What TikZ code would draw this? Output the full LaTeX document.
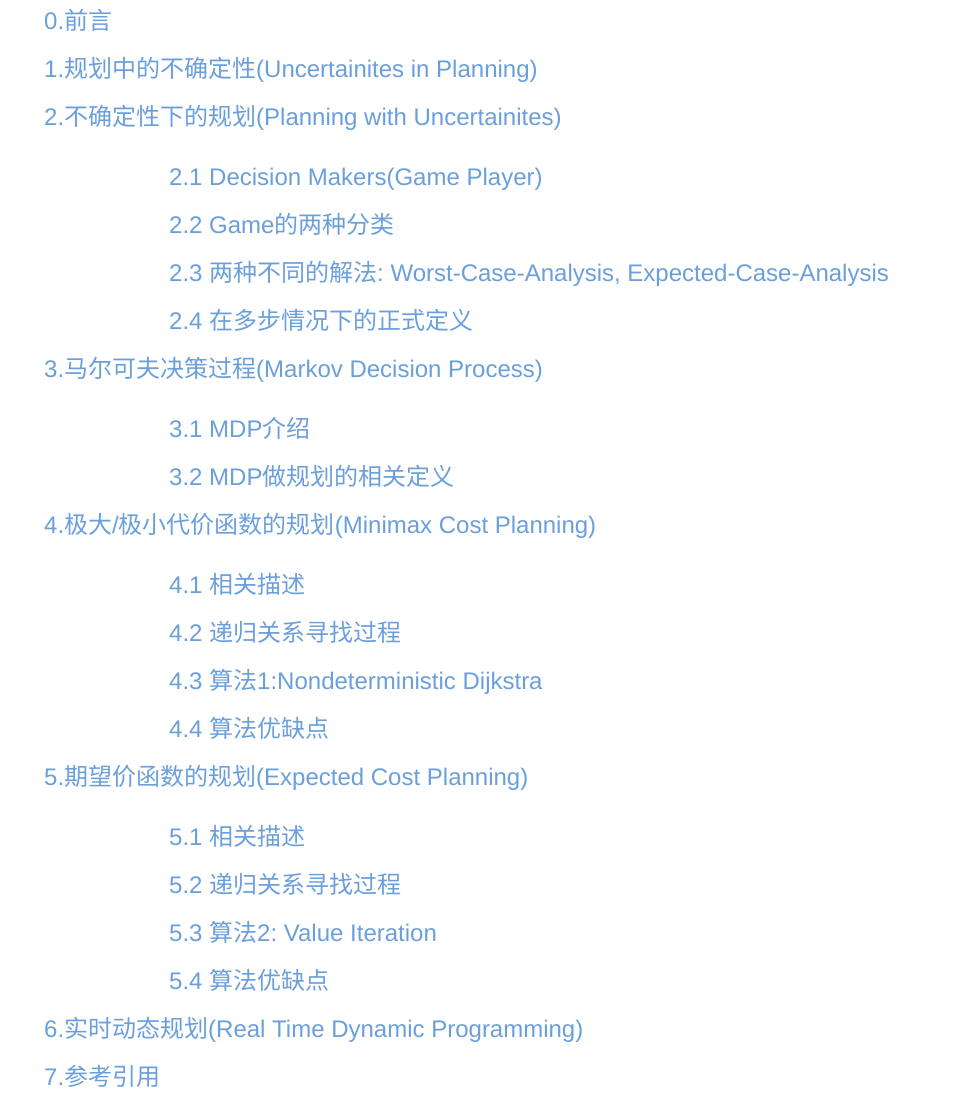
\documentclass[tikz,border=0pt]{standalone}
\usepackage{fontspec}
\setmainfont{Liberation Sans}
\newfontfamily\cjk{Noto Sans CJK SC}
\definecolor{tocblue}{RGB}{106,159,220}
\frenchspacing
\begin{document}
\begin{tikzpicture}[x=1pt,y=-1pt,
				every node/.style={inner sep=0pt,anchor=base west,
				text=tocblue,font=\fontsize{24}{28}\selectfont}]
				\def\la{44}
				\def\lb{169}
				\useasboundingbox (0,0) rectangle (976,1096);
				% chapters
				\path (\la,29) node (s0) {0.{\cjk 前言}}
				(\la,77) node (s1) {1.{\cjk 规划中的不确定性}(Uncertainites in Planning)}
				(\la,125) node (s2) {2.{\cjk 不确定性下的规划}(Planning with Uncertainites)}
				(\la,377) node (s3) {3.{\cjk 马尔可夫决策过程}(Markov Decision Process)}
				(\la,533) node (s4) {4.{\cjk 极大}/{\cjk 极小代价函数的规划}(Minimax Cost Planning)}
				(\la,785) node (s5) {5.{\cjk 期望价函数的规划}(Expected Cost Planning)}
				(\la,1037) node (s6) {6.{\cjk 实时动态规划}(Real Time Dynamic Programming)}
				(\la,1085) node (s7) {7.{\cjk 参考引用}};
				% sections of 2
				\path (\lb,185) node (s21) {2.1 Decision Makers(Game Player)}
				(\lb,233) node (s22) {2.2 Game{\cjk 的两种分类}}
				(\lb,281) node (s23) {2.3 {\cjk 两种不同的解法}: Worst-Case-Analysis, Expected-Case-Analysis}
				(\lb,329) node (s24) {2.4 {\cjk 在多步情况下的正式定义}};
				% sections of 3
				\path (\lb,437) node (s31) {3.1 MDP{\cjk 介绍}}
				(\lb,485) node (s32) {3.2 MDP{\cjk 做规划的相关定义}};
				% sections of 4
				\path (\lb,593) node (s41) {4.1 {\cjk 相关描述}}
				(\lb,641) node (s42) {4.2 {\cjk 递归关系寻找过程}}
				(\lb,689) node (s43) {4.3 {\cjk 算法}1:Nondeterministic Dijkstra}
				(\lb,737) node (s44) {4.4 {\cjk 算法优缺点}};
				% sections of 5
				\path (\lb,845) node (s51) {5.1 {\cjk 相关描述}}
				(\lb,893) node (s52) {5.2 {\cjk 递归关系寻找过程}}
				(\lb,941) node (s53) {5.3 {\cjk 算法}2: Value Iteration}
				(\lb,989) node (s54) {5.4 {\cjk 算法优缺点}};
			\end{tikzpicture}
\end{document}
